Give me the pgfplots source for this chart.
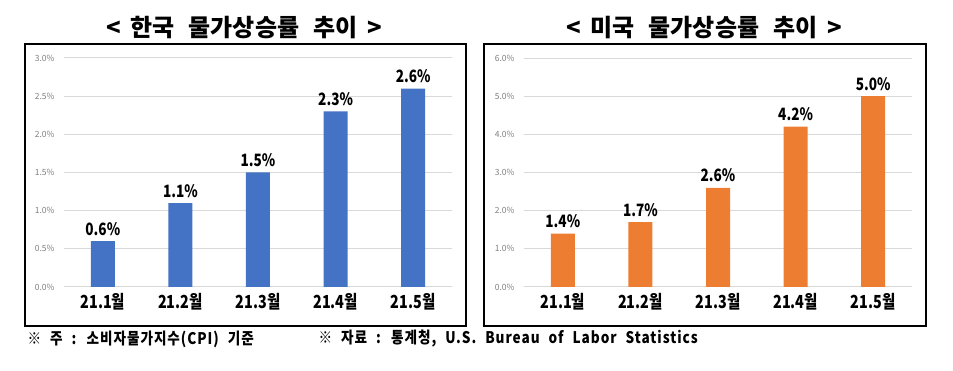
\documentclass[border=0pt]{standalone}
\usepackage{fontspec}
\setmainfont{Noto Sans CJK KR}
\newfontfamily\narrow{Noto Sans CJK KR}[FakeStretch=0.8]
\newfontfamily\foot{Noto Sans CJK KR}[FakeStretch=0.85, LetterSpace=6, WordSpace=2.2]
\usepackage{pgfplots}
\pgfplotsset{compat=1.18}
\definecolor{krblue}{HTML}{4472C4}
\definecolor{usorange}{HTML}{ED7D31}
\definecolor{gridc}{HTML}{D9D9D9}
\definecolor{tickc}{HTML}{7F7F7F}
\pgfplotsset{
  panel/.style={
    scale only axis, anchor=south west, clip=false,
    width=388pt, height=229pt,
    xmin=-0.5, xmax=4.5, ymin=0,
    axis line style={draw=none}, major tick length=0pt,
    ymajorgrids, grid style={color=gridc, line width=1pt},
    xtick={0,1,2,3,4},
    xticklabels={21.1월,21.2월,21.3월,21.4월,21.5월},
    xticklabel style={font=\narrow\bfseries\fontsize{18}{18}\selectfont, yshift=-3pt},
    /pgf/number format/assume math mode=true,
    yticklabel={\pgfmathprintnumber[fixed,fixed zerofill,precision=1]{\tick}\%},
    yticklabel style={font=\fontsize{8.5}{8.5}\selectfont, color=tickc, xshift=-6pt},
    ybar, bar width=24pt,
    nodes near coords={\pgfmathprintnumber[fixed,fixed zerofill,precision=1]{\pgfplotspointmeta}\%},
    nodes near coords style={font=\narrow\bfseries\fontsize{17}{17}\selectfont, yshift=2pt},
  }
}
\begin{document}
\begin{tikzpicture}[x=1pt,y=1pt]
\path (0,0) rectangle (953,371);
\draw[line width=1.5pt] (25,45) rectangle (466,327);
\draw[line width=1.5pt] (484,45) rectangle (926,327);
\node at (244,343) {\bfseries\fontsize{24}{24}\selectfont <\hspace{10pt}한국\hspace{14pt}물가상승률\hspace{14pt}추이\hspace{10pt}>};
\node at (704,343) {\bfseries\fontsize{24}{24}\selectfont <\hspace{10pt}미국\hspace{14pt}물가상승률\hspace{14pt}추이\hspace{10pt}>};
\begin{axis}[panel, at={(64pt,84pt)}, ymax=3, ytick={0,0.5,...,3.01}]
\addplot[fill=krblue, draw=none] coordinates {(0,0.6) (1,1.1) (2,1.5) (3,2.3) (4,2.6)};
\end{axis}
\begin{axis}[panel, at={(524pt,84pt)}, ymax=6, ytick={0,1,...,6}]
\addplot[fill=usorange, draw=none] coordinates {(0,1.4) (1,1.7) (2,2.6) (3,4.2) (4,5.0)};
\end{axis}
\node[anchor=west] at (24,32) {\foot\bfseries\fontsize{16}{16}\selectfont ※ 주 : 소비자물가지수(CPI) 기준};
\node[anchor=west] at (315,32) {\foot\bfseries\fontsize{16}{16}\selectfont ※ 자료 : 통계청, U.S. Bureau of Labor Statistics};
\end{tikzpicture}
\end{document}
